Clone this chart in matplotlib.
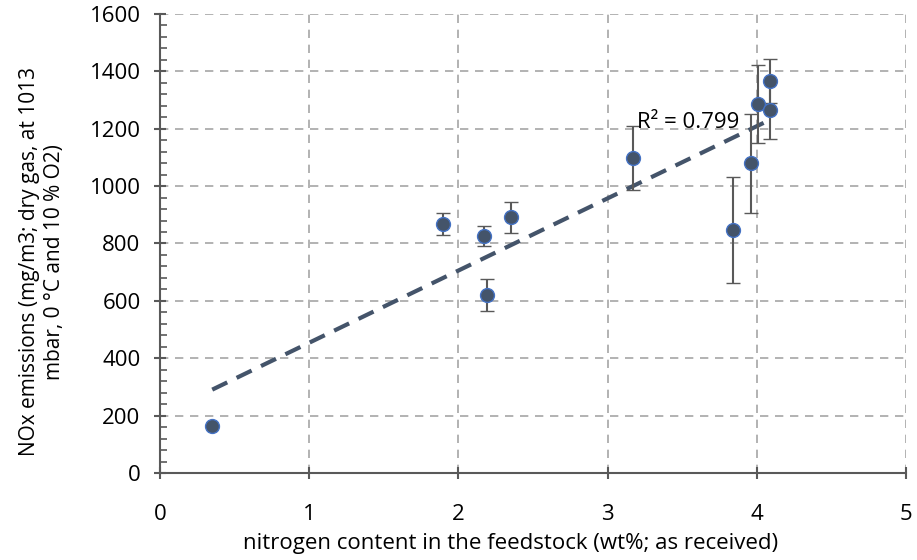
#!/usr/bin/env python3
"""
NOx emissions vs nitrogen content of the feedstock, with linear trend line.
"""

import matplotlib
matplotlib.use("Agg")
import matplotlib.pyplot as plt
from matplotlib.ticker import MultipleLocator
import numpy as np

# Data
nitrogen = [0.35, 1.90, 2.17, 2.19, 2.35, 3.17, 3.84, 3.96, 4.01, 4.09, 4.09]
nox = [164, 868, 826, 619, 891, 1098, 847, 1079, 1285, 1367, 1265]
nox_err = [0, 38, 36, 56, 55, 113, 184, 171, 136, 77, 100]

r2_label = "R² = 0.799"
x_label = "nitrogen content in the feedstock (wt%; as received)"
y_label = "NOx emissions (mg/m3; dry gas, at 1013\nmbar, 0 °C and 10 % O2)"

plt.rcParams['font.family'] = ['Open Sans', 'DejaVu Sans']

fig = plt.figure(figsize=(9.17, 5.6), dpi=100)
ax = fig.add_axes([0.1745, 0.1554, 0.8135, 0.8196])

# Linear trend line
slope, intercept = np.polyfit(nitrogen, nox, 1)
xs = np.array([min(nitrogen), max(nitrogen)])
ax.plot(xs, slope * xs + intercept, color='#44546A', linewidth=3,
        dashes=(4, 2.5), zorder=2)

ax.errorbar(nitrogen, nox, yerr=nox_err, fmt='o', color='#44546A',
            markersize=10, markeredgecolor='#4472C4', markeredgewidth=1,
            ecolor='#595959', elinewidth=1.5, capsize=5, capthick=1.5,
            zorder=3)

ax.text(3.20, 1223, r2_label, fontsize=16, va='center', ha='left', zorder=4)

ax.set_xlim(0, 5)
ax.set_ylim(0, 1600)
ax.xaxis.set_major_locator(MultipleLocator(1))
ax.yaxis.set_major_locator(MultipleLocator(200))
ax.yaxis.set_minor_locator(MultipleLocator(40))

ax.grid(True, which='major', color='#A6A6A6', linestyle=(0, (5, 4)), linewidth=1.2)
ax.set_axisbelow(True)

for side in ['top', 'right']:
    ax.spines[side].set_visible(False)
for side in ['left', 'bottom']:
    ax.spines[side].set_color('#595959')
    ax.spines[side].set_linewidth(1.5)

ax.tick_params(axis='both', which='major', labelsize=16, color='#595959',
               direction='inout', length=8, width=1.5)
ax.tick_params(axis='x', which='major', pad=18)
ax.tick_params(axis='y', which='major', pad=10)
ax.tick_params(axis='y', which='minor', color='#595959', direction='in',
               length=5, width=1.2)

ax.set_xlabel(x_label, fontsize=16)
ax.set_ylabel(y_label, fontsize=15, linespacing=1.25)
ax.xaxis.set_label_coords(0.47, -0.13)
ax.yaxis.set_label_coords(-0.128, 0.46)

plt.savefig("out.png", dpi=100)
